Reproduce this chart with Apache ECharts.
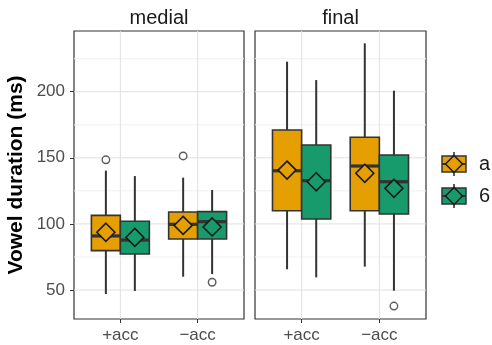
<!DOCTYPE html>
<html><head><meta charset="utf-8">
<script src="https://cdn.jsdelivr.net/npm/echarts@6/dist/echarts.min.js"></script>
<style>html,body{margin:0;padding:0;background:#fff}#c{width:492px;height:345px}</style>
</head><body><div id="c"></div>
<script>
const facets = ['medial', 'final'];
const categories = ['+acc', '−acc'];
const groups = ['a', '6'];
const groupColors = ['#E69F00', '#179B6D'];
// [whiskerLow, q1, median, q3, whiskerHigh] for +acc, −acc
const medialA = [[47.0, 79.8, 90.9, 106.5, 140.3], [60.1, 88.6, 99.7, 109.0, 135.0]];
const medial6 = [[49.3, 77.3, 87.8, 102.0, 136.2], [62.1, 88.6, 101.7, 109.3, 125.7]];
const finalA = [[65.7, 110.0, 140.2, 171.0, 222.7], [67.7, 110.0, 143.8, 165.5, 236.6]];
const final6 = [[59.6, 103.7, 132.7, 159.7, 208.8], [49.5, 107.5, 131.9, 152.1, 200.8]];
const medialAMean = [93.7, 98.9];
const medial6Mean = [89.8, 97.7];
const finalAMean = [140.7, 138.3];
const final6Mean = [131.9, 126.9];
// outliers: [categoryIndex, value]
const medialAOut = [[0, 148.5], [1, 151.4]];
const medial6Out = [[1, 55.9]];
const finalAOut = [];
const final6Out = [[1, 37.9]];
const yTicks = [50, 100, 150, 200];
const yMinor = [75, 125, 175, 225];

const FONT = 'Liberation Sans, Arial, sans-serif';
const STROKE = '#333333';
const DODGE = 0.1875;

const facetBoxes = [[medialA, medial6], [finalA, final6]];
const facetMeans = [[medialAMean, medial6Mean], [finalAMean, final6Mean]];
const facetOut = [[medialAOut, medial6Out], [finalAOut, final6Out]];

const grids = [
  {left: 74, top: 31, width: 170, height: 288},
  {left: 255, top: 31, width: 171, height: 288}
];

function boxRender(offset, color) {
  return function (params, api) {
    const x = api.value(0) + offset;
    const lo = api.coord([x, api.value(1)]);
    const q1 = api.coord([x, api.value(2)]);
    const md = api.coord([x, api.value(3)]);
    const q3 = api.coord([x, api.value(4)]);
    const hi = api.coord([x, api.value(5)]);
    const mn = api.coord([x, api.value(6)]);
    const w = api.size([0.375, 0])[0];
    const cx = lo[0];
    const d = 9;
    return {type: 'group', children: [
      {type: 'line', shape: {x1: cx, y1: hi[1], x2: cx, y2: q3[1]}, style: {stroke: STROKE, lineWidth: 2}},
      {type: 'line', shape: {x1: cx, y1: q1[1], x2: cx, y2: lo[1]}, style: {stroke: STROKE, lineWidth: 2}},
      {type: 'rect', shape: {x: cx - w / 2, y: q3[1], width: w, height: q1[1] - q3[1]}, style: {fill: color, stroke: STROKE, lineWidth: 1.6}},
      {type: 'line', shape: {x1: cx - w / 2, y1: md[1], x2: cx + w / 2, y2: md[1]}, style: {stroke: STROKE, lineWidth: 3.2}},
      {type: 'polygon', shape: {points: [[cx, mn[1] - d], [cx + d, mn[1]], [cx, mn[1] + d], [cx - d, mn[1]]]}, style: {fill: color, stroke: '#1a1a1a', lineWidth: 1.6}}
    ]};
  };
}

function hLineRender(color) {
  return function (params, api) {
    const cs = params.coordSys;
    const p = api.coord([1, api.value(1)]);
    return {type: 'line', shape: {x1: cs.x, y1: p[1], x2: cs.x + cs.width, y2: p[1]}, style: {stroke: color, lineWidth: 1}};
  };
}
function vLineRender(color) {
  return function (params, api) {
    const cs = params.coordSys;
    const p = api.coord([api.value(0), 100]);
    return {type: 'line', shape: {x1: p[0], y1: cs.y, x2: p[0], y2: cs.y + cs.height}, style: {stroke: color, lineWidth: 1}};
  };
}

const series = [];
facets.forEach((f, gi) => {
  series.push({type: 'custom', xAxisIndex: gi, yAxisIndex: gi, z: 1, silent: true, renderItem: hLineRender('#F0F0F0'), data: yMinor.map(v => [1, v])});
  series.push({type: 'custom', xAxisIndex: gi, yAxisIndex: gi, z: 1, silent: true, renderItem: hLineRender('#E0E0E0'), data: yTicks.map(v => [1, v])});
  series.push({type: 'custom', xAxisIndex: gi, yAxisIndex: gi, z: 1, silent: true, renderItem: vLineRender('#E0E0E0'), data: categories.map((c, i) => [i + 1, 100])});
  groups.forEach((g, k) => {
    const off = k === 0 ? -DODGE : DODGE;
    series.push({
      type: 'custom', name: g, xAxisIndex: gi, yAxisIndex: gi, z: 2,
      renderItem: boxRender(off, groupColors[k]),
      data: facetBoxes[gi][k].map((b, i) => [i + 1, ...b, facetMeans[gi][k][i]])
    });
    series.push({
      type: 'scatter', xAxisIndex: gi, yAxisIndex: gi, z: 3, symbol: 'circle', symbolSize: 7.5,
      itemStyle: {color: '#fff', borderColor: STROKE, borderWidth: 1.4},
      data: facetOut[gi][k].map(([c, v]) => [c + 1 + off, v])
    });
  });
});

const graphic = [];
facets.forEach((f, gi) => {
  graphic.push({type: 'text', x: grids[gi].left + grids[gi].width / 2, y: 18,
    style: {text: f, font: '20px ' + FONT, fill: '#1a1a1a', align: 'center', verticalAlign: 'middle'}});
});
groups.forEach((g, k) => {
  const cy = 164 + k * 32;
  const cx = 454;
  graphic.push({type: 'line', shape: {x1: cx, y1: cy - 12, x2: cx, y2: cy + 12}, style: {stroke: STROKE, lineWidth: 1.6}});
  graphic.push({type: 'rect', shape: {x: cx - 12, y: cy - 8, width: 24, height: 16}, style: {fill: groupColors[k], stroke: STROKE, lineWidth: 1.5}});
  graphic.push({type: 'line', shape: {x1: cx - 12, y1: cy, x2: cx + 12, y2: cy}, style: {stroke: STROKE, lineWidth: 2}});
  graphic.push({type: 'polygon', shape: {points: [[cx, cy - 8.5], [cx + 8.5, cy], [cx, cy + 8.5], [cx - 8.5, cy]]}, style: {fill: groupColors[k], stroke: '#1a1a1a', lineWidth: 1.5}});
  graphic.push({type: 'text', x: 479, y: cy, style: {text: g, font: '20px ' + FONT, fill: '#1a1a1a', align: 'left', verticalAlign: 'middle'}});
});

const option = {
  animation: false,
  backgroundColor: '#fff',
  grid: grids.map(g => Object.assign({show: true, borderColor: STROKE, borderWidth: 1.2, backgroundColor: 'transparent', containLabel: false}, g)),
  xAxis: facets.map((f, gi) => ({
    type: 'value', gridIndex: gi, min: 0.4, max: 2.6,
    axisLine: {show: false}, splitLine: {show: false},
    axisTick: {show: true, customValues: [1, 2], length: 4, lineStyle: {color: STROKE}},
    axisLabel: {customValues: [1, 2], formatter: v => categories[Math.round(v) - 1], fontSize: 17, color: '#4d4d4d', margin: 8, fontFamily: FONT}
  })),
  yAxis: facets.map((f, gi) => ({
    type: 'value', gridIndex: gi, min: 28.1, max: 245.9,
    axisLine: {show: false}, splitLine: {show: false},
    axisTick: {show: gi === 0, customValues: yTicks, length: 4, lineStyle: {color: STROKE}},
    axisLabel: {show: gi === 0, customValues: yTicks, fontSize: 17, color: '#4d4d4d', margin: 9, fontFamily: FONT},
    name: gi === 0 ? 'Vowel duration (ms)' : '',
    nameLocation: 'middle', nameGap: 47,
    nameTextStyle: {fontSize: 21, fontWeight: 'bold', color: '#000', fontFamily: FONT}
  })),
  series: series,
  graphic: graphic
};
const chart = echarts.init(document.getElementById('c'), null, {renderer: 'canvas'});
chart.setOption(option);
</script></body></html>
